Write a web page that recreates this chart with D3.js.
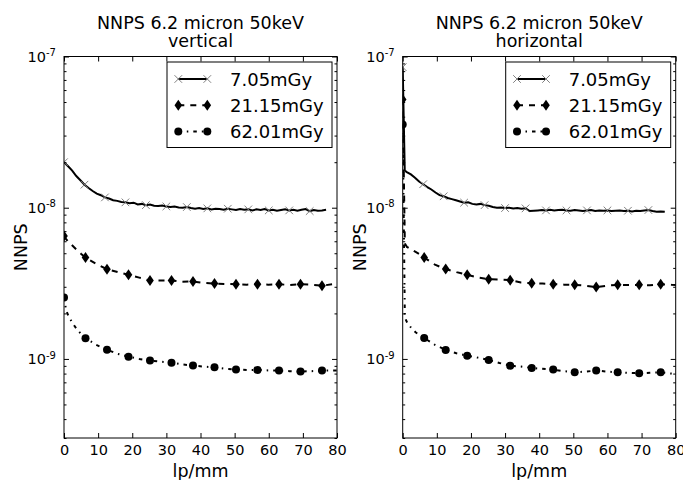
<!DOCTYPE html>
<html>
<head>
<meta charset="utf-8">
<script src="https://cdn.jsdelivr.net/npm/d3@7"></script>
<style>
  body { margin: 0; background: #fff; }
  text { font-family: "DejaVu Sans", sans-serif; fill: #000; }
</style>
</head>
<body>
<div id="chart"></div>
<script>
// frequency grid of the 7.05mGy curves (lp/mm)
const freqA = [0, 0.6, 1.2, 2.4, 3.6, 4.8, 6.0, 7.2, 8.4, 9.6, 10.8, 12.0, 13.2, 14.4, 15.6, 16.8, 18.0,
  19.2, 20.4, 21.6, 22.8, 24.0, 25.2, 26.4, 27.6, 28.8, 30.0, 31.2, 32.4, 33.6, 34.8, 36.0, 37.2,
  38.4, 39.6, 40.8, 42.0, 43.2, 44.4, 45.6, 46.8, 48.0, 49.2, 50.4, 51.6, 52.8, 54.0, 55.2, 56.4,
  57.6, 58.8, 60.0, 61.2, 62.4, 63.6, 64.8, 66.0, 67.2, 68.4, 69.6, 70.8, 72.0, 73.2, 74.4, 75.6, 76.8];
// frequency grid of the 21.15 / 62.01mGy curves (lp/mm)
const freqB = [0, 0.63, 1.26, 2.52, 3.78, 5.04, 6.3, 9.45, 12.6, 15.75, 18.9, 22.05, 25.2, 28.35,
  31.5, 34.65, 37.8, 40.95, 44.1, 47.25, 50.4, 53.55, 56.7, 59.85, 63.0, 66.15, 69.3, 72.45, 75.6, 78.75, 81.9];

// NNPS values, in units of 1e-9
const UNIT = 1e-9;
const vert705 = [20.0, 19.4, 18.8, 17.6, 16.2, 15.2, 14.2, 13.5, 12.9, 12.4, 12.1, 11.7, 11.5, 11.2, 11.1, 10.9, 10.85,
  10.7, 10.8, 10.5, 10.6, 10.4, 10.5, 10.3, 10.25, 10.35, 10.2,
  10.1, 10.2, 10.05, 10.0, 10.1, 9.95, 9.85, 9.95, 9.8, 9.9,
  9.75, 9.85, 9.8, 9.7, 9.85, 9.75, 9.65, 9.8, 9.7, 9.75,
  9.6, 9.75, 9.65, 9.8, 9.6, 9.7, 9.55, 9.65, 9.75, 9.6,
  9.7, 9.55, 9.7, 9.8, 9.5, 9.65, 9.55, 9.6, 9.7];
const vert2115 = [6.5, 6.2, 5.95, 5.6, 5.25, 4.95, 4.68, 4.25, 3.92, 3.75, 3.6, 3.45, 3.3, 3.3, 3.3, 3.24, 3.25,
  3.18, 3.15, 3.13, 3.12, 3.1, 3.12, 3.1, 3.12, 3.08, 3.12, 3.1, 3.05, 3.12, 3.1];
const vert6201 = [2.55, 2.1, 1.93, 1.72, 1.57, 1.46, 1.37, 1.24, 1.15, 1.08, 1.035, 1.0, 0.975, 0.96, 0.945, 0.92, 0.905,
  0.89, 0.88, 0.86, 0.85, 0.845, 0.846, 0.84, 0.837, 0.83, 0.825, 0.83, 0.837, 0.84, 0.84];

const horz705 = [85, 17.6, 17.2, 16.6, 15.8, 14.9, 14.3, 13.7, 13.2, 12.6, 12.1, 11.9, 11.6, 11.4, 11.2, 11.0, 10.8,
  10.85, 10.6, 10.5, 10.6, 10.4, 10.3, 10.1, 10.0, 10.05, 9.95,
  10.0, 9.9, 9.95, 9.85, 9.9, 9.5, 9.55, 9.6, 9.65, 9.6,
  9.7, 9.6, 9.65, 9.7, 9.6, 9.55, 9.65, 9.6, 9.5, 9.6,
  9.65, 9.5, 9.6, 9.55, 9.6, 9.5, 9.55, 9.6, 9.5, 9.55,
  9.45, 9.55, 9.5, 9.6, 9.65, 9.5, 9.4, 9.45, 9.4];
const horz2115 = [52, 5.8, 5.5, 5.3, 5.1, 4.9, 4.68, 4.2, 3.93, 3.75, 3.6, 3.45, 3.37, 3.35, 3.32, 3.2, 3.17,
  3.15, 3.12, 3.1, 3.09, 3.05, 2.99, 3.05, 3.09, 3.08, 3.09, 3.07, 3.12, 3.09, 3.08];
const horz6201 = [35.5, 1.88, 1.75, 1.6, 1.5, 1.43, 1.375, 1.24, 1.147, 1.09, 1.05, 1.02, 0.985, 0.94, 0.903, 0.89, 0.872,
  0.86, 0.85, 0.83, 0.816, 0.825, 0.837, 0.825, 0.816, 0.81, 0.804, 0.81, 0.816, 0.80, 0.80];

const legendLabels = ["7.05mGy", "21.15mGy", "62.01mGy"];
const titleMain = "NNPS 6.2 micron 50keV";
const panelNames = ["vertical", "horizontal"];
const xTicks = [0, 10, 20, 30, 40, 50, 60, 70, 80];
const yTicks = [1e-9, 1e-8, 1e-7];
const yExp = ["-9", "-8", "-7"];

// layout
const W = 683, H = 480;
const plotW = 273, plotTop = 56.5, plotBottom = 438;
const panelLeft = [64, 402.7];

const svg = d3.select("#chart").append("svg")
  .attr("width", W).attr("height", H);

// series styles
const styles = [
  { dash: null, marker: "x", every: 6.0 },
  { dash: "6,6", marker: "d", every: 6.3 },
  { dash: "3.5,5,1.5,5", marker: "o", every: 6.3 }
];

function drawMarker(g, kind, cx, cy) {
  if (kind === "x") {
    g.append("path")
      .attr("d", `M${cx - 3.8},${cy - 3.8}L${cx + 3.8},${cy + 3.8}M${cx - 3.8},${cy + 3.8}L${cx + 3.8},${cy - 3.8}`)
      .attr("stroke", "#808080").attr("stroke-width", 1).attr("fill", "none");
  } else if (kind === "d") {
    g.append("path")
      .attr("d", `M${cx},${cy - 5.5}L${cx + 3.8},${cy}L${cx},${cy + 5.5}L${cx - 3.8},${cy}Z`)
      .attr("fill", "#000");
  } else {
    g.append("circle").attr("cx", cx).attr("cy", cy).attr("r", 4).attr("fill", "#000");
  }
}

function drawPanel(idx, series) {
  const left = panelLeft[idx];
  const g = svg.append("g").attr("transform", `translate(${left},0)`);

  const x = d3.scaleLinear().domain([0, 80]).range([0, plotW]);
  const y = d3.scaleLog().domain([3e-10, 1e-7]).range([plotBottom, plotTop]);
  const minor = y.ticks().filter(v => yTicks.indexOf(v) < 0 && Math.abs(Math.log10(v) % 1) > 1e-9);

  // clip
  const clipId = "clip" + idx;
  g.append("clipPath").attr("id", clipId)
    .append("rect").attr("x", 0).attr("y", plotTop).attr("width", plotW).attr("height", plotBottom - plotTop);

  const plot = g.append("g").attr("clip-path", `url(#${clipId})`);

  // lines + markers
  series.forEach((s, i) => {
    const st = styles[i];
    const pts = s.f.map((f, k) => ({ f: f, v: s.v[k] * UNIT }));
    plot.append("path")
      .datum(pts)
      .attr("fill", "none")
      .attr("stroke", "#000")
      .attr("stroke-width", 2)
      .attr("stroke-dasharray", st.dash)
      .attr("d", d3.line().x(d => x(d.f)).y(d => y(d.v)));
    pts.filter(d => Math.abs(d.f / st.every - Math.round(d.f / st.every)) < 1e-6)
      .forEach(d => drawMarker(plot, st.marker, x(d.f), y(d.v)));
  });

  // axes: ticks pointing inward on all four sides
  g.append("g").attr("transform", `translate(0,${plotBottom})`)
    .call(d3.axisBottom(x).tickValues(xTicks).tickSizeInner(-5).tickSizeOuter(0).tickPadding(7))
    .call(a => a.select(".domain").remove())
    .call(a => a.selectAll("text").style("font-size", "14.5px").attr("font-family", null));
  g.append("g").attr("transform", `translate(0,${plotTop})`)
    .call(d3.axisTop(x).tickValues(xTicks).tickSizeInner(-5).tickSizeOuter(0).tickFormat(""))
    .call(a => a.select(".domain").remove());

  const yl = g.append("g")
    .call(d3.axisLeft(y).tickValues(yTicks).tickSizeInner(-5).tickSizeOuter(0).tickPadding(8))
    .call(a => a.select(".domain").remove());
  yl.selectAll(".tick text").each(function (d, i) {
    const t = d3.select(this).text(null).attr("font-family", null).style("font-size", "14.5px").attr("dy", "0.32em");
    t.append("tspan").text("10");
    t.append("tspan").text(yExp[i]).attr("dy", "-0.55em").style("font-size", "10px");
  });
  g.append("g")
    .call(d3.axisLeft(y).tickValues(minor).tickSizeInner(-2.5).tickSizeOuter(0).tickFormat(""))
    .call(a => a.select(".domain").remove());
  g.append("g").attr("transform", `translate(${plotW},0)`)
    .call(d3.axisRight(y).tickValues(yTicks).tickSizeInner(-5).tickSizeOuter(0).tickFormat(""))
    .call(a => a.select(".domain").remove());
  g.append("g").attr("transform", `translate(${plotW},0)`)
    .call(d3.axisRight(y).tickValues(minor).tickSizeInner(-2.5).tickSizeOuter(0).tickFormat(""))
    .call(a => a.select(".domain").remove());
  g.selectAll(".tick line").attr("stroke", "#000");

  // frame
  g.append("rect")
    .attr("x", 0).attr("y", plotTop).attr("width", plotW).attr("height", plotBottom - plotTop)
    .attr("fill", "none").attr("stroke", "#000").attr("stroke-width", 1);

  // titles and labels
  g.append("text").attr("x", plotW / 2).attr("y", 29).attr("text-anchor", "middle")
    .style("font-size", "17.5px").text(titleMain);
  g.append("text").attr("x", plotW / 2).attr("y", 47).attr("text-anchor", "middle")
    .style("font-size", "17.5px").text(panelNames[idx]);
  g.append("text").attr("x", plotW / 2).attr("y", 477).attr("text-anchor", "middle")
    .style("font-size", "17.5px").text("lp/mm");
  g.append("text").attr("transform", `translate(-37,${(plotTop + plotBottom) / 2}) rotate(-90)`)
    .attr("text-anchor", "middle").style("font-size", "17.5px").text("NNPS");

  // legend
  const lg = g.append("g");
  lg.append("rect").attr("x", 103).attr("y", 62).attr("width", 165).attr("height", 85.5)
    .attr("fill", "#fff").attr("stroke", "#000").attr("stroke-width", 1);
  legendLabels.forEach((lab, i) => {
    const cy = 79 + i * 26.3;
    lg.append("line").attr("x1", 114.3).attr("x2", 143.3).attr("y1", cy).attr("y2", cy)
      .attr("stroke", "#000").attr("stroke-width", 2).attr("stroke-dasharray", styles[i].dash);
    drawMarker(lg, styles[i].marker, 114.3, cy);
    drawMarker(lg, styles[i].marker, 143.3, cy);
    lg.append("text").attr("x", 166).attr("y", cy + 6.5).style("font-size", "18px").text(lab);
  });
}

drawPanel(0, [
  { f: freqA, v: vert705 },
  { f: freqB, v: vert2115 },
  { f: freqB, v: vert6201 }
]);
drawPanel(1, [
  { f: freqA, v: horz705 },
  { f: freqB, v: horz2115 },
  { f: freqB, v: horz6201 }
]);
</script>
</body>
</html>
